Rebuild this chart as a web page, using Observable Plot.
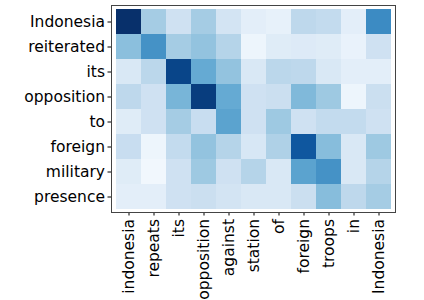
<!DOCTYPE html>
<html>
<head>
<meta charset="utf-8">
<script src="https://cdn.jsdelivr.net/npm/d3@7"></script>
<script src="https://cdn.jsdelivr.net/npm/@observablehq/plot@0.6"></script>
<style>
  html, body { margin: 0; padding: 0; background: #fff; }
  #chart { width: 424px; height: 300px; }
</style>
</head>
<body>
<div id="chart"></div>
<script>
const rowLabels = ["Indonesia", "reiterated", "its", "opposition", "to", "foreign", "military", "presence"];
const colLabels = ["indonesia", "repeats", "its", "opposition", "against", "station", "of", "foreign", "troops", "in", "Indonesia"];
const weights = [
  [1.00, 0.35, 0.20, 0.35, 0.18, 0.10, 0.08, 0.27, 0.25, 0.10, 0.65],
  [0.42, 0.62, 0.35, 0.40, 0.30, 0.05, 0.12, 0.13, 0.12, 0.07, 0.20],
  [0.15, 0.28, 0.92, 0.52, 0.40, 0.15, 0.28, 0.27, 0.15, 0.10, 0.10],
  [0.27, 0.20, 0.47, 0.95, 0.52, 0.20, 0.22, 0.45, 0.37, 0.05, 0.22],
  [0.12, 0.20, 0.35, 0.23, 0.55, 0.20, 0.37, 0.20, 0.25, 0.25, 0.20],
  [0.23, 0.05, 0.25, 0.40, 0.30, 0.16, 0.32, 0.85, 0.43, 0.15, 0.37],
  [0.12, 0.03, 0.20, 0.37, 0.20, 0.30, 0.15, 0.55, 0.62, 0.15, 0.30],
  [0.10, 0.10, 0.20, 0.22, 0.18, 0.15, 0.15, 0.22, 0.43, 0.27, 0.35]
];

const cells = [];
rowLabels.forEach((r, i) => colLabels.forEach((c, j) => cells.push({row: i, col: j, v: weights[i][j]})));

const chart = Plot.plot({
  width: 424,
  height: 300,
  marginLeft: 111,
  marginRight: 29,
  marginTop: 5,
  marginBottom: 88,
  style: {fontFamily: "DejaVu Sans", fontSize: "15.5px", color: "#000", background: "#fff"},
  x: {type: "band", domain: d3.range(colLabels.length), padding: 0, label: null, tickRotate: -90, tickSize: 3.5, tickPadding: 3, tickFormat: j => colLabels[j]},
  y: {type: "band", domain: d3.range(rowLabels.length), padding: 0, label: null, tickSize: 3.5, tickPadding: 3, tickFormat: i => rowLabels[i]},
  color: {type: "linear", scheme: "blues", domain: [0, 1]},
  marks: [
    Plot.cell(cells, {x: "col", y: "row", fill: "v", inset: 0}),
    Plot.frame({stroke: "#444", strokeWidth: 1})
  ]
});
document.getElementById("chart").appendChild(chart);
</script>
</body>
</html>
